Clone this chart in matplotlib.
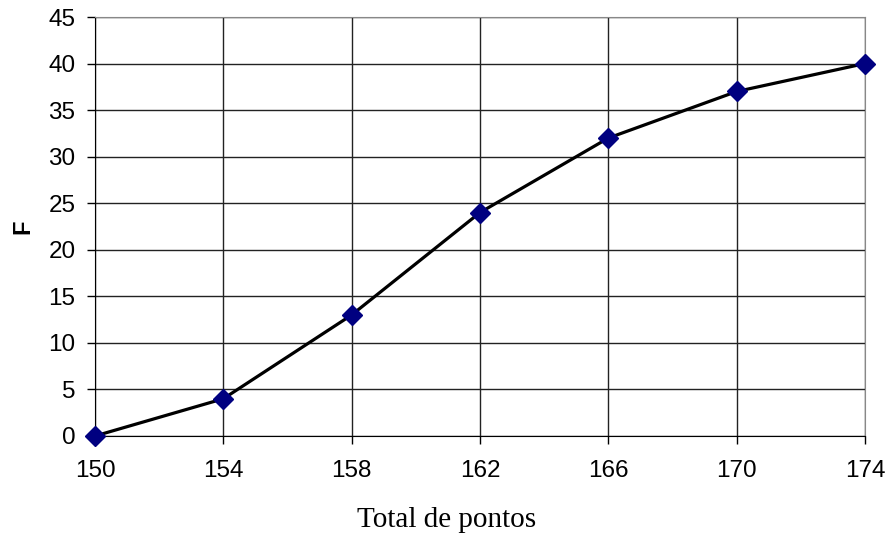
import matplotlib.pyplot as plt

pontos = [150, 154, 158, 162, 166, 170, 174]
freq_acum = [0, 4, 13, 24, 32, 37, 40]
y_ticks = [0, 5, 10, 15, 20, 25, 30, 35, 40, 45]

fig = plt.figure(figsize=(8.91, 5.4), dpi=100)
ax = fig.add_axes([0.1066, 0.1926, 0.8642, 0.7759])

ax.plot(pontos, freq_acum, color='black', lw=2.3, marker='D', markersize=10,
        markerfacecolor='#000080', markeredgecolor='#000080', clip_on=False, zorder=3)

ax.set_xlim(150, 174)
ax.set_ylim(0, 45)
ax.set_xticks(pontos)
ax.set_yticks(y_ticks)
ax.grid(True, color='#222222', lw=1)
ax.set_axisbelow(True)

for s in ['top', 'right']:
    ax.spines[s].set_color('#888888')
for s in ['left', 'bottom']:
    ax.spines[s].set_color('black')
ax.tick_params(direction='out', length=6, width=1, labelsize=17.5)
ax.tick_params(axis='x', pad=11)
ax.tick_params(axis='y', pad=8)
for lab in ax.get_xticklabels() + ax.get_yticklabels():
    lab.set_fontfamily('Liberation Sans')

ax.set_xlabel('Total de pontos', fontfamily='Liberation Serif', fontsize=21, labelpad=14)
ax.xaxis.set_label_coords(0.457, -0.17)
ax.set_ylabel('F', fontfamily='Liberation Sans', fontweight='bold', fontsize=17, labelpad=10)

fig.savefig('out.png', dpi=100)
